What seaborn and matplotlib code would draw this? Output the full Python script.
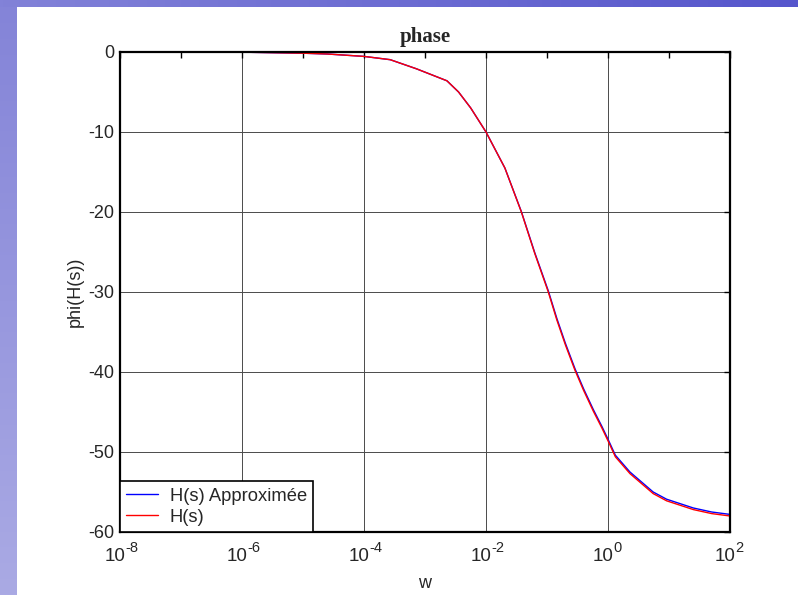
import numpy as np
import pandas as pd
import matplotlib
matplotlib.use("Agg")
import matplotlib.pyplot as plt
import seaborn as sns

# ---- data ----
w = [1e-8, 1e-7, 1e-6, 1e-5, 2.51e-5, 1e-4, 2.69e-4, 7.24e-4, 2.29e-3, 3.55e-3,
     5.62e-3, 1e-2, 2.04e-2, 3.80e-2, 6.31e-2, 0.105, 0.145, 0.200, 0.288, 0.398,
     0.575, 0.794, 1.0, 1.32, 2.29, 5.50, 9.12, 25.1, 50.1, 100.0]
phase_h = [0.0, 0.0, -0.02, -0.15, -0.25, -0.55, -0.96, -2.1, -3.6, -5.0,
           -7.0, -10.0, -14.5, -20.0, -25.2, -30.0, -33.5, -36.6, -39.8, -42.3,
           -44.9, -47.0, -48.6, -50.6, -52.7, -55.2, -56.1, -57.2, -57.7, -58.0]
phase_approx = [0.0, 0.0, -0.02, -0.15, -0.25, -0.55, -0.96, -2.1, -3.6, -5.0,
                -7.0, -10.0, -14.5, -19.95, -25.1, -29.85, -33.3, -36.4, -39.6, -42.1,
                -44.7, -46.8, -48.4, -50.4, -52.5, -55.0, -55.9, -57.0, -57.5, -57.8]
series_names = ["H(s) Approximée", "H(s)"]
x_ticks = [1e-8, 1e-6, 1e-4, 1e-2, 1e0, 1e2]
x_exponents = ["-8", "-6", "-4", "-2", "0", "2"]
x_minor = [1e-7, 1e-5, 1e-3, 1e-1, 1e1]
y_ticks = [-60, -50, -40, -30, -20, -10, 0]

df = pd.concat([
    pd.DataFrame({"w": w, "phi": phase_approx, "serie": series_names[0]}),
    pd.DataFrame({"w": w, "phi": phase_h, "serie": series_names[1]}),
])

sns.set_style("white")
plt.rcParams["font.family"] = ["Liberation Sans", "DejaVu Sans"]
plt.rcParams["axes.unicode_minus"] = False

fig = plt.figure(figsize=(7.98, 5.95), dpi=100, facecolor="white")

# slide background bands
W, H = 798, 595
ax_top = fig.add_axes([0, 1 - 7 / H, 1, 7 / H])
ax_top.imshow(np.linspace(0, 1, 256)[None, :], aspect="auto",
              cmap=matplotlib.colors.LinearSegmentedColormap.from_list("t", ["#8282d8", "#5656cc"]))
ax_top.axis("off")
ax_left = fig.add_axes([0, 0, 17 / W, 1 - 7 / H])
ax_left.imshow(np.linspace(0, 1, 256)[:, None], aspect="auto",
               cmap=matplotlib.colors.LinearSegmentedColormap.from_list("l", ["#8484d8", "#aaaae4"]))
ax_left.axis("off")

ax = fig.add_axes([120 / W, 1 - 532 / H, 610 / W, 480 / H])
sns.lineplot(data=df, x="w", y="phi", hue="serie", hue_order=series_names,
             palette=["#0000ff", "#ff0000"], linewidth=1.0, ax=ax, sort=False,
             estimator=None)
ax.set_xscale("log")
ax.set_xlim(1e-8, 1e2)
ax.set_ylim(-60, 0)
ax.set_xticks(x_ticks)
ax.set_xticklabels([""] * len(x_ticks))
ax.set_xticks(x_minor, minor=True)
ax.xaxis.set_minor_formatter(matplotlib.ticker.NullFormatter())
ax.set_yticks(y_ticks)
ax.set_yticklabels([str(v) for v in y_ticks])
ax.grid(True, which="major", color="#4a4a4a", linewidth=0.7)
ax.tick_params(which="both", direction="in", top=True, right=True, length=4,
               width=1.0, color="black", labelsize=13, pad=4)

# x tick labels as "10" with superscript exponent
for t, e in zip(x_ticks, x_exponents):
    ax.annotate("10", xy=(t, 0), xycoords=("data", "axes fraction"),
                xytext=(3.6, -17.6), textcoords="offset points",
                ha="right", va="center", fontsize=13.5)
    ax.annotate(e, xy=(t, 0), xycoords=("data", "axes fraction"),
                xytext=(3.6, -11.2), textcoords="offset points",
                ha="left", va="center", fontsize=10.5)

for s in ax.spines.values():
    s.set_color("black")
    s.set_linewidth(1.6)
ax.set_title("phase", fontsize=15, fontweight="bold",
             family=["Liberation Serif", "DejaVu Serif"], pad=7)
ax.set_xlabel("w", fontsize=13, labelpad=27)
ax.set_ylabel("phi(H(s))", fontsize=13, labelpad=3)
leg = ax.legend(loc="lower left", bbox_to_anchor=(0, 0), borderaxespad=0,
                fontsize=13.2, frameon=True, fancybox=False, framealpha=1,
                edgecolor="black", handlelength=1.7, handletextpad=0.65,
                borderpad=0.35, labelspacing=0.22, title=None)
leg.get_frame().set_linewidth(1.2)

fig.savefig("out.png", dpi=100, facecolor="white")
